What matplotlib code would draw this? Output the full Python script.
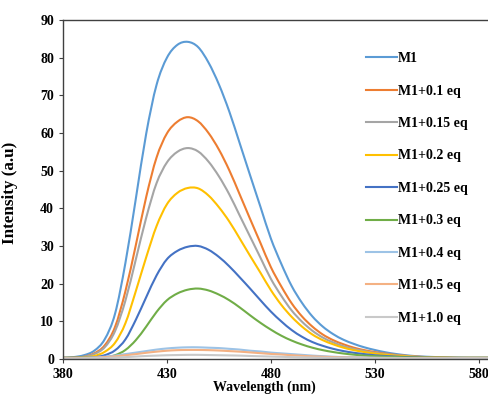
import matplotlib
matplotlib.use("Agg")
import matplotlib.pyplot as plt
from matplotlib.path import Path
from matplotlib.patches import PathPatch
from matplotlib.lines import Line2D

# wavelength grid (nm)
wl = list(range(380, 590, 5))

m1 = [0.3, 0.5, 1.0, 2.2, 5.2, 12.0, 25.5, 42.5, 59.8, 72.8, 80.0, 83.4, 84.2, 82.8,
      78.7, 72.9, 65.7, 57.3, 48.8, 40.4, 32.0, 25.3, 19.4, 14.9, 11.3, 8.6, 6.6, 5.1,
      4.0, 3.1, 2.4, 1.8, 1.35, 1.0, 0.75, 0.6, 0.5, 0.4, 0.35, 0.3, 0.3, 0.3]
m1_01 = [0.3, 0.35, 0.6, 1.5, 3.6, 8.5, 18.0, 30.2, 43.0, 53.5, 59.9, 63.0, 64.2, 63.1,
         60.0, 55.6, 50.1, 43.7, 37.2, 30.8, 24.4, 19.3, 14.8, 11.3, 8.6, 6.5, 5.0, 3.9,
         3.0, 2.35, 1.85, 1.45, 1.1, 0.85, 0.65, 0.5, 0.4, 0.35, 0.3, 0.3, 0.3, 0.3]
m1_015 = [0.3, 0.35, 0.55, 1.3, 3.1, 7.4, 15.5, 26.4, 37.5, 46.7, 52.2, 55.0, 56.0, 55.1,
          52.4, 48.5, 43.7, 38.1, 32.5, 26.9, 21.3, 16.8, 12.9, 9.9, 7.5, 5.7, 4.4, 3.4,
          2.65, 2.1, 1.65, 1.3, 1.0, 0.8, 0.6, 0.5, 0.4, 0.35, 0.3, 0.3, 0.3, 0.3]
m1_02 = [0.3, 0.3, 0.4, 0.8, 1.9, 4.3, 9.5, 18.0, 27.0, 35.3, 41.1, 44.1, 45.4, 45.3,
         43.4, 40.3, 36.5, 32.0, 27.4, 22.9, 18.3, 14.4, 11.2, 8.6, 6.5, 5.0, 3.9, 3.0,
         2.35, 1.85, 1.45, 1.15, 0.9, 0.7, 0.55, 0.45, 0.4, 0.35, 0.3, 0.3, 0.3, 0.3]
m1_025 = [0.3, 0.3, 0.3, 0.45, 1.0, 2.3, 5.2, 10.4, 16.4, 22.2, 26.5, 28.7, 29.8, 30.0,
          29.0, 27.1, 24.6, 21.7, 18.7, 15.6, 12.6, 10.0, 7.7, 5.9, 4.5, 3.5, 2.7, 2.1,
          1.65, 1.3, 1.0, 0.8, 0.65, 0.5, 0.42, 0.36, 0.32, 0.3, 0.3, 0.3, 0.3, 0.3]
m1_03 = [0.3, 0.3, 0.3, 0.32, 0.45, 1.0, 2.4, 5.0, 8.6, 12.5, 15.6, 17.4, 18.4, 18.7,
         18.2, 17.1, 15.6, 13.7, 11.6, 9.6, 7.8, 6.2, 4.9, 3.85, 3.0, 2.35, 1.85, 1.45,
         1.15, 0.9, 0.75, 0.6, 0.5, 0.42, 0.36, 0.32, 0.3, 0.3, 0.3, 0.3, 0.3, 0.3]
m1_04 = [0.2, 0.2, 0.3, 0.4, 0.6, 0.9, 1.3, 1.7, 2.1, 2.5, 2.8, 3.0, 3.1, 3.1,
         3.0, 2.9, 2.7, 2.5, 2.2, 2.0, 1.7, 1.5, 1.3, 1.1, 0.9, 0.75, 0.6, 0.5,
         0.45, 0.4, 0.35, 0.3, 0.3, 0.25, 0.25, 0.25, 0.2, 0.2, 0.2, 0.2, 0.2, 0.2]
m1_05 = [0.2, 0.2, 0.25, 0.35, 0.5, 0.7, 1.0, 1.3, 1.65, 1.95, 2.2, 2.35, 2.4, 2.4,
         2.35, 2.25, 2.1, 1.95, 1.75, 1.55, 1.35, 1.2, 1.0, 0.85, 0.7, 0.6, 0.5, 0.42,
         0.38, 0.33, 0.3, 0.28, 0.25, 0.25, 0.22, 0.2, 0.2, 0.2, 0.2, 0.2, 0.2, 0.2]
m1_10 = [0.15, 0.15, 0.2, 0.25, 0.3, 0.4, 0.5, 0.65, 0.8, 0.9, 1.0, 1.05, 1.1, 1.1,
         1.05, 1.0, 0.95, 0.9, 0.8, 0.72, 0.65, 0.58, 0.5, 0.45, 0.4, 0.35, 0.32, 0.3,
         0.28, 0.26, 0.25, 0.24, 0.22, 0.2, 0.2, 0.2, 0.2, 0.2, 0.2, 0.2, 0.2, 0.2]

series = [m1, m1_01, m1_015, m1_02, m1_025, m1_03, m1_04, m1_05, m1_10]
labels = ["M1", "M1+0.1 eq", "M1+0.15 eq", "M1+0.2 eq", "M1+0.25 eq",
          "M1+0.3 eq", "M1+0.4 eq", "M1+0.5 eq", "M1+1.0 eq"]
colors = ["#5B9BD5", "#ED7D31", "#A5A5A5", "#FFC000", "#4472C4",
          "#70AD47", "#9DC3E6", "#F4B183", "#C9C9C9"]


def smooth_path(x, y):
    # excel style "smoothed line": bezier segments through the data points
    pts = list(zip(x, y))
    n = len(pts)
    verts = [pts[0]]
    codes = [Path.MOVETO]
    for i in range(n - 1):
        p0 = pts[i - 1] if i > 0 else pts[i]
        p1 = pts[i]
        p2 = pts[i + 1]
        p3 = pts[i + 2] if i + 2 < n else pts[i + 1]
        c1 = (p1[0] + (p2[0] - p0[0]) / 6, p1[1] + (p2[1] - p0[1]) / 6)
        c2 = (p2[0] - (p3[0] - p1[0]) / 6, p2[1] - (p3[1] - p1[1]) / 6)
        verts += [c1, c2, p2]
        codes += [Path.CURVE4] * 3
    return Path(verts, codes)


plt.rcParams['font.family'] = ['Liberation Serif', 'DejaVu Serif']
plt.rcParams['font.weight'] = 'bold'

fig = plt.figure(figsize=(4.89, 4.0), dpi=100)
ax = fig.add_axes([0.129, 0.1025, 0.871, 0.8475])

handles = []
for y, lab, c in zip(series, labels, colors):
    ax.add_patch(PathPatch(smooth_path(wl, y), fill=False, edgecolor=c, lw=1.5))
    handles.append(Line2D([], [], color=c, lw=1.5, label=lab))

ax.set_xlim(380, 585)
ax.set_ylim(0, 90)
ax.set_xticks([380, 430, 480, 530, 580])
ax.set_yticks(range(0, 100, 10))
ax.tick_params(labelsize=10, length=3, width=0.8, color='#404040')
for t in ax.get_xticklabels() + ax.get_yticklabels():
    t.set_fontweight('bold')

for s in ['left', 'bottom', 'top']:
    ax.spines[s].set_color('#404040')
    ax.spines[s].set_linewidth(1.0)
ax.spines['right'].set_visible(False)

ax.set_xlabel("Wavelength (nm)", fontsize=10, fontweight='bold')
ax.set_ylabel("Intensity (a.u)", fontsize=12.3, fontweight='bold')
ax.xaxis.set_label_coords(0.472, -0.062)
ax.yaxis.set_label_coords(-0.106, 0.49)

fig.legend(handles=handles, loc='upper left', bbox_to_anchor=(0.735, 0.887),
           frameon=False, prop={'weight': 'bold', 'size': 10}, borderpad=0,
           labelspacing=1.4, handlelength=2.2, handletextpad=0.05)

fig.savefig("out.png", dpi=100)
